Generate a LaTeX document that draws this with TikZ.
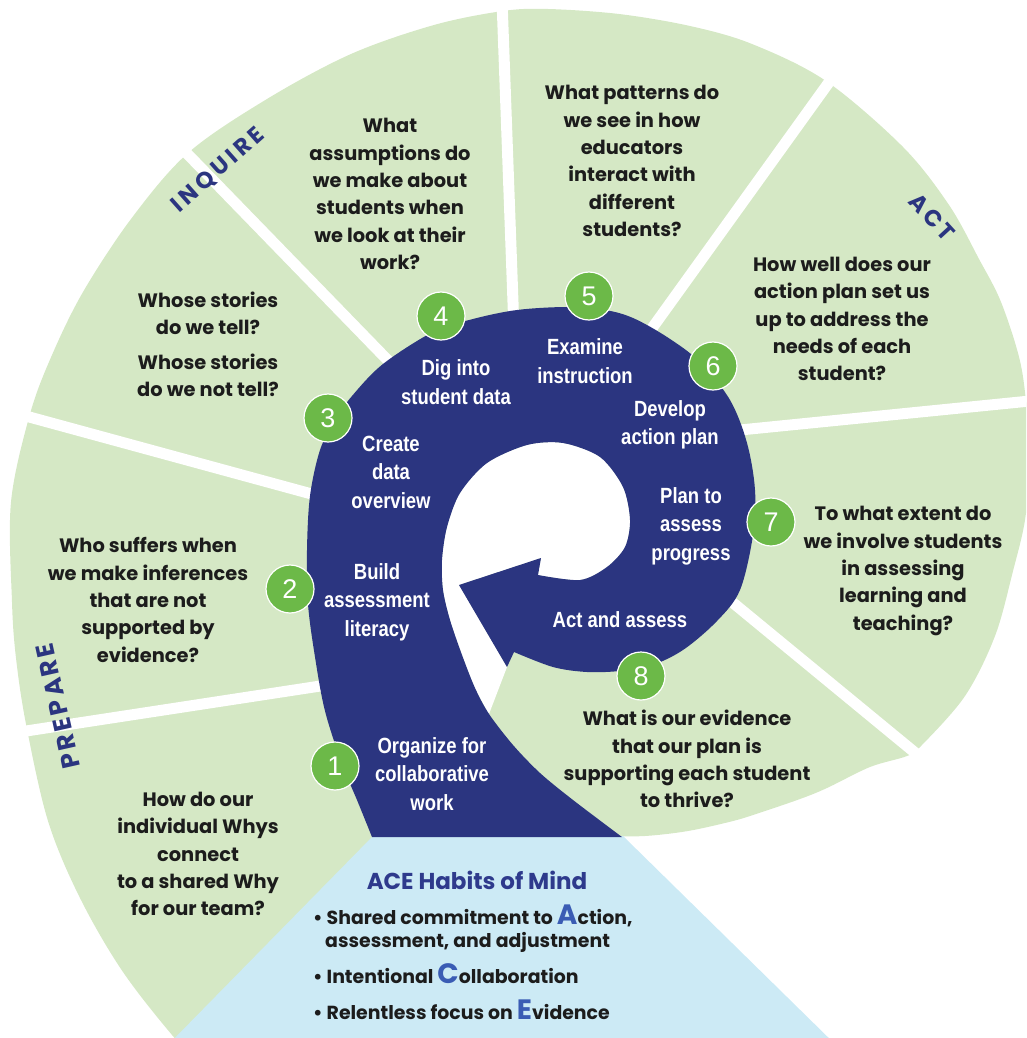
\documentclass[tikz,border=0pt]{standalone}
\usepackage{fontspec}
\setmainfont{Poppins}
\newfontfamily\popfont{Poppins}
\newfontfamily\labfont{Poppins}[LetterSpace=16]
\newfontfamily\labwidefont{Poppins}[LetterSpace=12]
\newfontfamily\condfont{Liberation Sans}[FakeStretch=0.84]
\newfontfamily\numfont{Liberation Sans}
\definecolor{navy}{RGB}{43,53,128}
\definecolor{titleblue}{RGB}{46,58,140}
\definecolor{bigblue}{RGB}{58,92,180}
\definecolor{lgreen}{RGB}{213,232,197}
\definecolor{cgreen}{RGB}{108,185,72}
\definecolor{lblue}{RGB}{204,234,245}
\definecolor{qtextc}{RGB}{28,28,28}
\tikzset{
  qtext/.style={align=center, text=qtextc, inner sep=0pt, font=\popfont\bfseries\fontsize{19.4}{27.3}\selectfont},
  bandtext/.style={align=center, text=white, inner sep=0pt, font=\condfont\bfseries\fontsize{22}{28.5}\selectfont},
  numcircle/.style={circle, fill=cgreen, draw=white, line width=1.2pt, minimum size=48pt, inner sep=0pt, text=white, font=\numfont\fontsize{27}{27}\selectfont},
  phase/.style={text=navy, inner sep=0pt, font=\labfont\bfseries\fontsize{23}{23}\selectfont},
  phasewide/.style={text=navy, inner sep=0pt, font=\labwidefont\bfseries\fontsize{25}{25}\selectfont},
  sepline/.style={white, line width=11pt},
  acetext/.style={anchor=base west, inner sep=0pt, text=qtextc, font=\popfont\bfseries\fontsize{18.9}{20}\selectfont},
}
\newcommand{\bigL}[1]{{\fontsize{28}{20}\selectfont\color{bigblue}#1}}
\begin{document}
\begin{tikzpicture}[x=1pt,y=-1pt]
\useasboundingbox (0,0) rectangle (1026,1038);
\clip (0,0) rectangle (1026,1038);
% green spiral background
\fill[lgreen] (560,850) -- plot[smooth, tension=0.55] coordinates {(609,836) (645,836) (688,831) (733,821) (759,813) (800,799) (827,788) (870,767) (907,756) (921,746) (965,696) (995,636) (1013,571) (1025,520) (1029,468) (1027,414) (1020,361) (1001,302) (979,259) (949,205) (903,147) (826,81) (752,44) (690,26) (619,14) (548,9) (503,11) (434,25) (351,54) (267,99) (188,153) (131,219) (83,292) (52,355) (30,414) (11,502) (12,602) (16,658) (26,724) (48,821) (80,898) (123,972) (178,1042) (226,1092)} -- (500,1092) -- cycle;
% separators
\draw[sepline] (340,683) -- (0,735);
\draw[sepline] (330,499) -- (0,409);
\draw[sepline] (405,378) -- (170,136);
\draw[sepline] (514,330) -- (502,0);
\draw[sepline] (640,345) -- (845,60);
\draw[sepline] (720,432) -- (1040,400);
\draw[sepline] (715,588) -- (930,765);
% light blue panel
\fill[lblue] (372,837) -- (623,836) -- (841,1050) -- (163,1050) -- cycle;
% white hole
\fill[white] (489,714) -- (507,667) -- (459,585) -- (541,558) -- (538,575) -- plot[smooth] coordinates {(538,575) (580,580) (607,567) (625,547) (630,520) (623,487) (600,457) (563,443) (527,445) (487,463) (460,493) (447,527) (442,560) (443,590) (450,620) (462,655) (475,688) (489,714)} -- cycle;
% blue spiral band
\fill[navy] plot[smooth, tension=0.55] coordinates {(372,837) (357,800) (342,764) (325,711) (315,657) (308,604) (307,550) (310,496) (320,450) (335,420) (352,396) (383,364) (433,332) (473,319) (517,310) (567,307) (605,310) (633,318) (667,337) (700,362) (730,400) (747,443) (755,490) (753,535) (740,590) (717,621) (683,650) (650,666) (620,671) (587,672) (553,667) (514,652)} -- (507,667) -- (459,585) -- (541,558) -- (538,575) -- plot[smooth] coordinates {(538,575) (580,580) (607,567) (625,547) (630,520) (623,487) (600,457) (563,443) (527,445) (487,463) (460,493) (447,527) (442,560) (443,590) (450,620) (462,655) (475,688) (489,714) (513,745) (540,773) (573,800) (622,837)} -- cycle;
% band labels
\node[bandtext] (s1) at (432,774) {Organize for\\collaborative\\work};
\node[bandtext] (s2) at (377,602) {Build\\assessment\\literacy};
\node[bandtext] (s3) at (391,472) {Create\\data\\overview};
\node[bandtext] (s4) at (456,382) {Dig into\\student data};
\node[bandtext] (s5) at (585,361) {Examine\\instruction};
\node[bandtext] (s6) at (670,425) {Develop\\action plan};
\node[bandtext] (s7) at (691,526) {Plan to\\assess\\progress};
\node[bandtext] (s8) at (620,620) {Act and assess};
% number circles
\node[numcircle] (c1) at (335,766) {1};
\node[numcircle] (c2) at (290,589) {2};
\node[numcircle] (c3) at (328,418) {3};
\node[numcircle] (c4) at (441,316) {4};
\node[numcircle] (c5) at (589,296) {5};
\node[numcircle] (c6) at (713,366) {6};
\node[numcircle] (c7) at (771,522) {7};
\node[numcircle] (c8) at (641,676) {8};
% questions
\node[qtext] (q1) at (198,854) {How do our\\individual Whys\\connect\\to a shared Why\\for our team?};
\node[qtext] (q2) at (148,600) {Who suffers when\\we make inferences\\that are not\\supported by\\evidence?};
\node[qtext] (q3a) at (208,313) {Whose stories\\do we tell?};
\node[qtext] (q3b) at (208,375) {Whose stories\\do we not tell?};
\node[qtext] (q4) at (390,194) {What\\assumptions do\\we make about\\students when\\we look at their\\work?};
\node[qtext] (q5) at (632,161) {What patterns do\\we see in how\\educators\\interact with\\different\\students?};
\node[qtext] (q6) at (842,319) {How well does our\\action plan set us\\up to address the\\needs of each\\student?};
\node[qtext] (q7) at (903,571) {To what extent do\\we involve students\\in assessing\\learning and\\teaching?};
\node[qtext] (q8) at (687,759) {What is our evidence\\that our plan is\\supporting each student\\to thrive?};
% phase labels
\node[phase, rotate=41.6] (inq) at (218,170) {INQUIRE};
\node[phase, rotate=-47.5] (act) at (932,217) {ACT};
\node[phasewide, rotate=102.6] (prep) at (58,706) {PREPARE};
% ACE habits
\node[inner sep=0pt, text=titleblue, font=\popfont\bfseries\fontsize{23}{23}\selectfont] (ace) at (477,880) {ACE Habits of Mind};
\node[acetext] (h1) at (313,924) {\textbullet\ Shared commitment to \bigL{A}ction,};
\node[acetext] (h1b) at (325,947) {assessment, and adjustment};
\node[acetext] (h2) at (313,983) {\textbullet\ Intentional \bigL{C}ollaboration};
\node[acetext] (h3) at (313,1019) {\textbullet\ Relentless focus on \bigL{E}vidence};
\end{tikzpicture}
\end{document}
